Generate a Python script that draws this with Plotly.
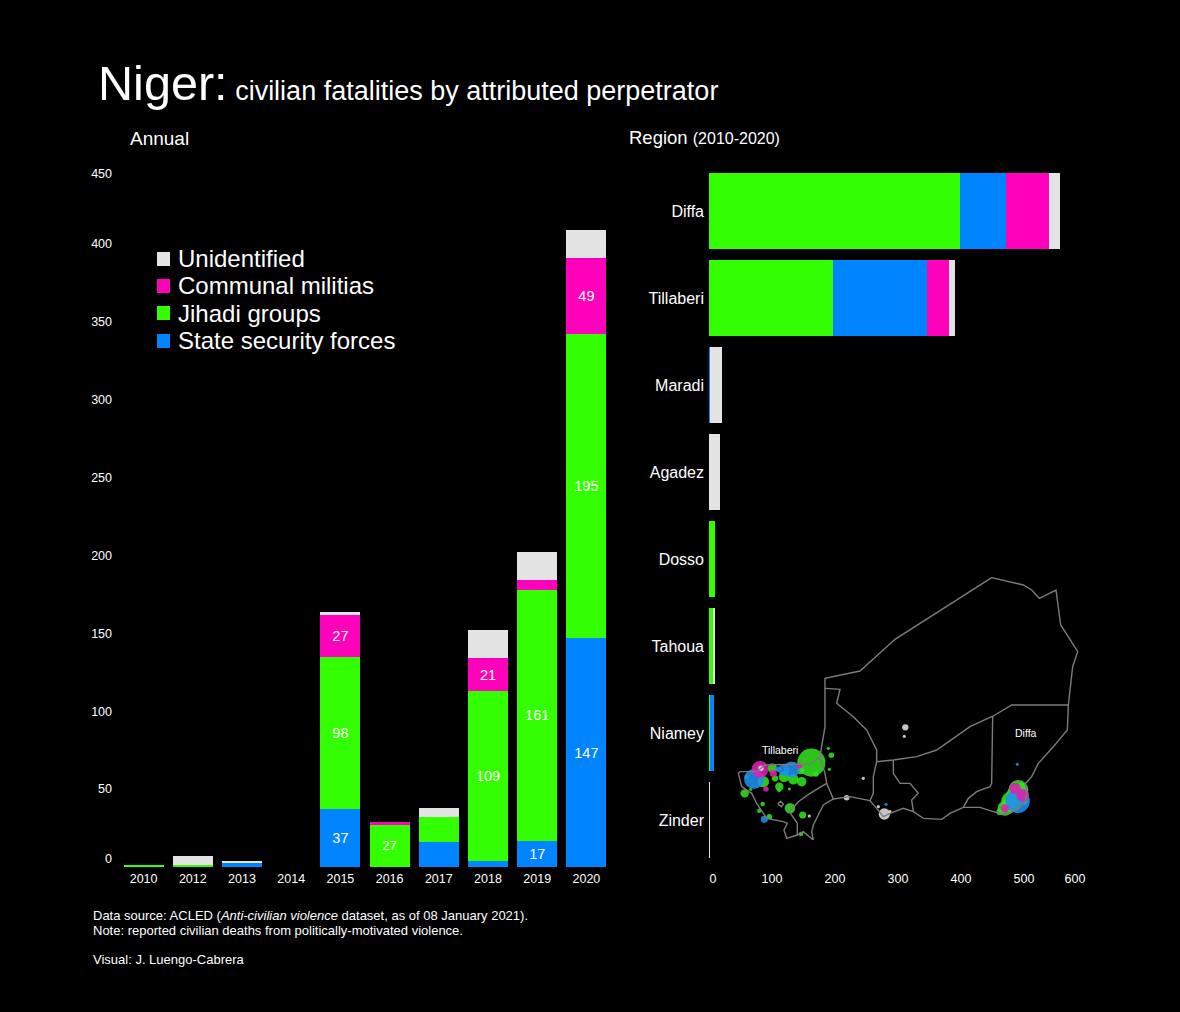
import plotly.graph_objects as go

W, H = 1180, 1012
FONT = "Liberation Sans"
GREEN, BLUE, PINK, GREY = "#33FF00", "#0084FF", "#FF00BB", "#E3E3E3"
MAP_GREEN, MAP_BLUE, MAP_PINK, MAP_GREY = "#33E020", "#1E90F0", "#E020B0", "#E0E0E0"

years = ["2010", "2012", "2013", "2014", "2015", "2016", "2017", "2018", "2019", "2020"]
annual_state = [0, 0, 3, 0, 37, 0, 16, 4, 17, 147]
annual_jihadi = [1, 1, 0, 0, 98, 27, 16, 109, 161, 195]
annual_militia = [0, 0, 0, 0, 27, 2, 0, 21, 6, 49]
annual_unid = [0, 6, 0.5, 0, 2, 0, 6, 18, 18, 18]
annual_ticks = [0, 50, 100, 150, 200, 250, 300, 350, 400, 450]

regions = ["Diffa", "Tillaberi", "Maradi", "Agadez", "Dosso", "Tahoua", "Niamey", "Zinder"]
region_jihadi = [398, 197, 0, 0, 9, 7, 1, 0]
region_state = [73, 149, 1, 0, 0, 0, 7, 0]
region_militia = [69, 35, 0, 0, 0, 0, 0, 0]
region_unid = [17, 10, 20, 17, 0, 1, 0, 1]
region_ticks = [0, 100, 200, 300, 400, 500, 600]

# Map, in the units of a 1140 x 840 map sheet
border_x = [845, 940, 965, 988, 1038, 1052, 1078, 1103, 1088, 1075, 1072, 1030, 985, 965, 945, 952, 945, 925, 900, 875, 840, 810, 760, 720, 695, 640, 610, 580, 540, 520, 500, 480, 420, 370, 340, 310, 305, 310, 280, 262, 230, 222, 232, 220, 170, 150, 140, 125, 95, 85, 90, 140, 165, 300, 330, 345, 345, 450, 555, 845]
border_y = [53, 75, 90, 115, 90, 195, 235, 275, 320, 435, 510, 560, 610, 650, 672, 700, 725, 745, 760, 762, 752, 742, 742, 760, 778, 775, 755, 745, 760, 770, 745, 722, 710, 717, 735, 795, 815, 840, 815, 825, 835, 810, 790, 785, 775, 745, 730, 700, 680, 640, 635, 635, 615, 612, 590, 500, 355, 333, 238, 53]
agadez_x = [345, 390, 380, 430, 470, 490, 500, 500, 530, 550, 620, 680, 780, 850, 905, 1075]
agadez_y = [385, 388, 430, 470, 510, 550, 570, 605, 603, 600, 590, 570, 500, 468, 435, 435]
diffa_x = [848, 845, 840, 800, 775, 760]
diffa_y = [468, 670, 680, 695, 715, 742]
dosso_x = [500, 490, 490, 480]
dosso_y = [605, 650, 700, 722]
maradi_x = [550, 550, 570, 600, 625, 605, 610]
maradi_y = [600, 640, 670, 670, 700, 720, 755]
tillaberi_x = [330, 345, 350, 370]
tillaberi_y = [590, 640, 670, 717]
tillaberi2_x = [350, 300, 265, 238, 262, 262]
tillaberi2_y = [670, 700, 725, 755, 790, 825]
river_x = [203, 212, 220, 214, 203]
river_y = [732, 724, 732, 740, 732]

jihadi_x = [304, 364, 355, 358, 318, 272, 250, 222, 275, 208, 207, 238, 195, 187, 160, 122, 104, 158, 148, 240, 278, 273, 178, 110, 925, 905, 885, 935, 870, 945, 940, 915, 895]
jihadi_y = [608, 586, 565, 628, 642, 632, 658, 650, 665, 680, 692, 687, 655, 625, 665, 688, 700, 732, 752, 745, 765, 822, 770, 650, 690, 725, 745, 680, 755, 690, 720, 705, 735]
jihadi_v = [79, 3, 1, 1, 3, 5, 11, 11, 9, 7, 1, 1, 4, 9, 13, 1, 7, 2, 2, 11, 5, 2, 3, 2, 40, 44, 22, 7, 5, 4, 11, 30, 20]
state_x = [132, 245, 222, 205, 163, 923, 528, 922]
state_y = [657, 628, 630, 628, 778, 723, 733, 613]
state_v = [40, 25, 13, 3, 5, 59, 1, 1]
militia_x = [150, 168, 190, 268, 915, 938, 885]
militia_y = [628, 687, 640, 618, 685, 706, 745]
militia_v = [28, 3, 5, 3, 13, 16, 7]
unid_x = [586, 583, 460, 410, 523, 505, 540, 298, 153]
unid_y = [502, 529, 655, 713, 762, 740, 755, 768, 625]
unid_v = [4, 1, 1, 3, 13, 1, 1, 1, 3]


def labels(values, hidden_below=17):
    return [str(v) if v >= hidden_below else "" for v in values]


def px_x(p):
    return p / W


def px_y(p):
    return 1 - p / H


fig = go.Figure()

# Annual panel
for name, vals, col, has_text in [
    ("State security forces", annual_state, BLUE, True),
    ("Jihadi groups", annual_jihadi, GREEN, True),
    ("Communal militias", annual_militia, PINK, True),
    ("Unidentified", annual_unid, GREY, False),
]:
    fig.add_trace(go.Bar(
        x=years, y=vals, name=name, marker=dict(color=col, line=dict(width=0)),
        text=labels(vals) if has_text else None, textposition="inside",
        insidetextanchor="middle", textangle=0, constraintext="none",
        textfont=dict(color="white", size=[13 if y == "2016" else 14.5 for y in years], family=FONT),
        showlegend=False, xaxis="x", yaxis="y",
    ))

# Region panel
for name, vals, col in [
    ("Jihadi groups", region_jihadi, GREEN),
    ("State security forces", region_state, BLUE),
    ("Communal militias", region_militia, PINK),
    ("Unidentified", region_unid, GREY),
]:
    fig.add_trace(go.Bar(
        y=regions, x=vals, name=name, orientation="h", width=0.874,
        marker=dict(color=col, line=dict(width=0)),
        showlegend=False, xaxis="x2", yaxis="y2",
    ))

# Map panel
for name, xs, ys, vs, col in [
    ("Jihadi groups", jihadi_x, jihadi_y, jihadi_v, MAP_GREEN),
    ("State security forces", state_x, state_y, state_v, MAP_BLUE),
    ("Communal militias", militia_x, militia_y, militia_v, MAP_PINK),
    ("Unidentified", unid_x, unid_y, unid_v, MAP_GREY),
]:
    fig.add_trace(go.Scatter(
        x=xs, y=ys, mode="markers", name=name, showlegend=False,
        marker=dict(size=vs, sizemode="area", sizeref=0.2, sizemin=1.5, color=col,
                    opacity=0.88, line=dict(width=0)),
        xaxis="x3", yaxis="y3",
    ))
for xs, ys in [(border_x, border_y), (agadez_x, agadez_y), (diffa_x, diffa_y),
               (dosso_x, dosso_y), (maradi_x, maradi_y),
               (tillaberi_x, tillaberi_y), (tillaberi2_x, tillaberi2_y), (river_x, river_y)]:
    fig.add_trace(go.Scatter(
        x=xs, y=ys, mode="lines", showlegend=False, hoverinfo="skip",
        line=dict(color="#7C7C7C", width=1.4), xaxis="x3", yaxis="y3",
    ))

annual_tickvals = list(annual_ticks)
annual_tickvals[0] = 5.1
annual_tickvals[-1] = 444.8
region_tickvals = list(region_ticks)
region_tickvals[0] = 6.3
region_tickvals[-1] = 581


def note(text, x, y, size, anchor="left", color="white"):
    return dict(text=text, x=px_x(x - (2 if anchor == "left" else 0)), y=px_y(y), xref="paper", yref="paper",
                xanchor=anchor, yanchor="middle", showarrow=False, align="left",
                font=dict(size=size, color=color, family=FONT))


annotations = [
    note("<span style='font-size:48.6px'>Niger:</span> civilian fatalities by attributed perpetrator", 98, 83, 27),
    note("Annual", 130, 138, 19),
    note("Region <span style='font-size:16px'>(2010-2020)</span>", 629, 137, 18.5),
    note("Data source: ACLED (<i>Anti-civilian violence</i> dataset, as of 08 January 2021).", 93, 915, 13),
    note("Note: reported civilian deaths from politically-motivated violence.", 93, 930, 13),
    note("Visual: J. Luengo-Cabrera", 93, 959, 13),
    note("Tillaberi", 780, 750, 10.5, "center"),
    note("Diffa", 1026, 733, 10.5, "center"),
]
shapes = []
for label, col, cy in [("Unidentified", GREY, 259), ("Communal militias", PINK, 286),
                       ("Jihadi groups", GREEN, 313), ("State security forces", BLUE, 341)]:
    annotations.append(note(label, 178, cy, 24))
    shapes.append(dict(type="rect", xref="paper", yref="paper", x0=px_x(157), x1=px_x(170),
                       y0=px_y(cy + 7), y1=px_y(cy - 7), fillcolor=col, line=dict(width=0)))

fig.update_layout(
    width=W, height=H, autosize=False, barmode="stack",
    paper_bgcolor="black", plot_bgcolor="rgba(0,0,0,0)",
    margin=dict(l=0, r=0, t=0, b=0), showlegend=False,
    font=dict(family=FONT, color="white", size=12.5),
    annotations=annotations, shapes=shapes,
    xaxis=dict(domain=[px_x(119), px_x(611)], type="category", categoryorder="array",
               categoryarray=years, showgrid=False, zeroline=False, showline=False,
               ticks="", ticklabelstandoff=2, tickfont=dict(size=12.5, color="white")),
    yaxis=dict(domain=[px_y(867), px_y(166)], range=[0, 450], showgrid=False, zeroline=False,
               tickvals=annual_tickvals, ticktext=[str(t) for t in annual_ticks], ticks="",
               ticklabelstandoff=6, tickfont=dict(size=12.5, color="white")),
    xaxis2=dict(domain=[px_x(709), px_x(1087)], range=[0, 600], anchor="y2", showgrid=False,
                zeroline=False, tickvals=region_tickvals, ticktext=[str(t) for t in region_ticks],
                ticks="", ticklabelstandoff=6, tickfont=dict(size=12.5, color="white")),
    yaxis2=dict(domain=[px_y(863.5), px_y(167.5)], anchor="x2", type="category",
                categoryorder="array", categoryarray=regions, autorange="reversed",
                showgrid=False, zeroline=False, ticks="", ticklabelstandoff=4,
                tickfont=dict(size=16, color="white")),
    xaxis3=dict(domain=[px_x(710), px_x(1090)], range=[0, 1140], anchor="y3", visible=False,
                fixedrange=True),
    yaxis3=dict(domain=[px_y(840), px_y(560)], range=[840, 0], anchor="x3", visible=False,
                fixedrange=True),
    bargap=0.187,
)

fig.write_html(
    "out.html",
    config=dict(displayModeBar=False),
    post_script="document.body.style.margin='0';document.body.style.background='black';document.body.style.overflow='hidden';",
)
